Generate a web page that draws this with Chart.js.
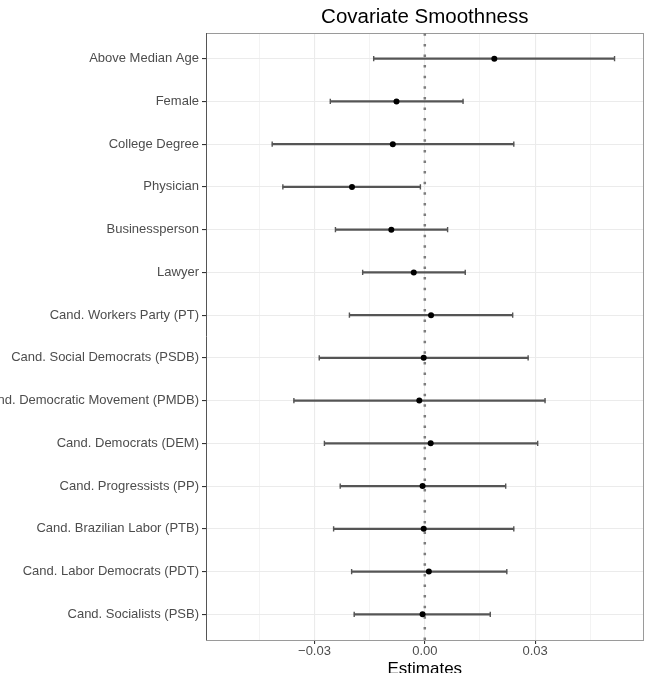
<!DOCTYPE html>
<html><head><meta charset="utf-8">
<script src="https://cdn.jsdelivr.net/npm/chart.js@4"></script>
<style>
html,body{margin:0;padding:0;overflow:hidden;background:#fff;width:649px;height:673px;position:relative}
canvas{position:absolute;left:-40px;top:0}
</style></head>
<body><canvas id="c" width="689" height="690"></canvas>
<script>
const categories = ['Above Median Age','Female','College Degree','Physician','Businessperson','Lawyer',
  'Cand. Workers Party (PT)','Cand. Social Democrats (PSDB)','Cand. Democratic Movement (PMDB)',
  'Cand. Democrats (DEM)','Cand. Progressists (PP)','Cand. Brazilian Labor (PTB)',
  'Cand. Labor Democrats (PDT)','Cand. Socialists (PSB)'];
const estimates = [0.0189,-0.0077,-0.0087,-0.0198,-0.0091,-0.0030,0.0017,-0.0003,-0.0015,0.0016,-0.0006,-0.0003,0.0011,-0.0006];
const lower = [-0.0139,-0.0257,-0.0415,-0.0386,-0.0243,-0.0169,-0.0205,-0.0287,-0.0356,-0.0273,-0.0230,-0.0248,-0.0199,-0.0192];
const upper = [0.0516,0.0104,0.0242,-0.0012,0.0062,0.0110,0.0239,0.0281,0.0327,0.0307,0.0220,0.0242,0.0223,0.0178];
const xTicks = [-0.045,-0.03,-0.015,0,0.015,0.03,0.045];
const xTickLabels = ['','\u22120.03','','0.00','','0.03',''];
const xRange = [-0.0595, 0.0595];

Chart.defaults.font.family = "'Liberation Sans', Arial, sans-serif";
const errColor = '#555555';

new Chart(document.getElementById('c'), {
  type: 'scatter',
  data: {
    datasets: [
      { type: 'line', xAxisID: 'x', yAxisID: 'yz', order: 5,
        data: [{x:0,y:0},{x:0,y:1}],
        borderColor: '#7d7d7d', borderWidth: 2.5, borderDash: [2.5, 8.1], borderCapStyle: 'butt',
        pointRadius: 0, fill: false },
      { type: 'bar', indexAxis: 'y', xAxisID: 'x', yAxisID: 'y', order: 4,
        data: categories.map((c,i)=>({y:i+1, x:[lower[i], upper[i]]})),
        backgroundColor: errColor, borderWidth: 0, barThickness: 1.4 },
      { type: 'scatter', xAxisID: 'x', yAxisID: 'y', order: 3,
        data: categories.map((c,i)=>({x:lower[i], y:i+1})),
        pointStyle: 'line', rotation: 90, pointRadius: 2.6, borderWidth: 1.4,
        borderColor: errColor, backgroundColor: errColor },
      { type: 'scatter', xAxisID: 'x', yAxisID: 'y', order: 2,
        data: categories.map((c,i)=>({x:upper[i], y:i+1})),
        pointStyle: 'line', rotation: 90, pointRadius: 2.6, borderWidth: 1.4,
        borderColor: errColor, backgroundColor: errColor },
      { type: 'scatter', xAxisID: 'x', yAxisID: 'y', order: 1,
        data: categories.map((c,i)=>({x:estimates[i], y:i+1})),
        pointRadius: 3, borderWidth: 0, backgroundColor: '#000', borderColor: '#000' }
    ]
  },
  options: {
    responsive: false, animation: false, devicePixelRatio: 1,
    layout: { padding: 0 },
    plugins: { legend: { display: false }, tooltip: { enabled: false }, title: { display: false } },
    scales: {
      x: {
        type: 'linear', position: 'bottom', min: xRange[0], max: xRange[1], offset: false,
        afterBuildTicks: s => { s.ticks = xTicks.map(v => ({value: v})); },
        afterFit: s => { s.height = 50; },
        ticks: { callback: (v, i) => xTickLabels[i], font: { size: 13 }, color: '#4d4d4d',
                 padding: 0, maxRotation: 0, autoSkip: false },
        grid: { offset: false, color: '#ebebeb', lineWidth: ctx => (xTickLabels[ctx.index] ? 1.1 : 0.6),
                tickColor: ctx => (xTickLabels[ctx.index] ? '#333' : 'rgba(0,0,0,0)'),
                tickLength: 4, drawTicks: true },
        border: { display: true, color: '#9a9a9a', width: 1 },
        title: { display: true, text: 'Estimates', color: '#000', font: { size: 17 },
                 padding: { top: 0, bottom: 10.8 } }
      },
      x2: {
        type: 'linear', position: 'top', min: 0, max: 1,
        afterFit: s => { s.height = 33; },
        ticks: { display: false },
        grid: { display: false, drawTicks: false },
        border: { display: true, color: '#9a9a9a', width: 1 },
        title: { display: true, text: 'Covariate Smoothness', color: '#000', font: { size: 20.5 },
                 padding: { top: 4.6, bottom: 0 } }
      },
      y: {
        type: 'linear', position: 'left', reverse: true, min: 0.4, max: 14.6, offset: false,
        afterBuildTicks: s => { s.ticks = categories.map((c,i) => ({value: i+1})); },
        afterFit: s => { s.width = 246; },
        ticks: { callback: v => categories[Math.round(v)-1], font: { size: 13 }, color: '#4d4d4d',
                 padding: 3, autoSkip: false },
        grid: { offset: false, color: '#ebebeb', lineWidth: 1.1, tickColor: '#333', tickLength: 4 },
        border: { display: true, color: '#555', width: 1 }
      },
      y2: {
        type: 'linear', position: 'right', min: 0, max: 1,
        afterFit: s => { s.width = 4; },
        ticks: { display: false },
        grid: { display: false, drawTicks: false },
        border: { display: true, color: '#9a9a9a', width: 1 }
      },
      yz: { type: 'linear', display: false, min: 0, max: 1 }
    }
  }
});
</script>
</body></html>
